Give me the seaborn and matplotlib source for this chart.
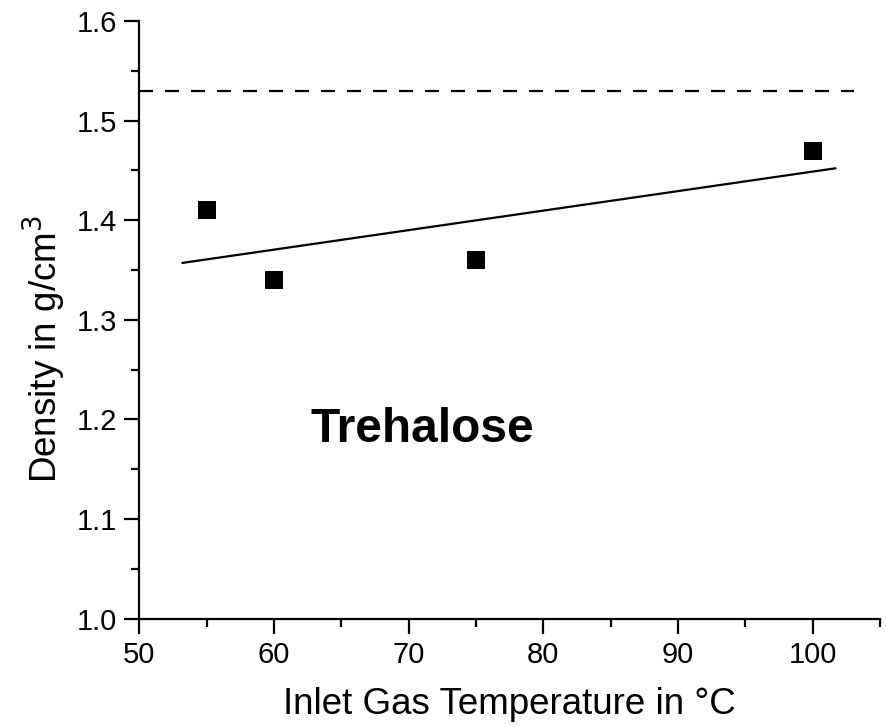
import numpy as np
import pandas as pd
import matplotlib
matplotlib.use("Agg")
import matplotlib.pyplot as plt
import seaborn as sns

# Data
temperature = [55, 60, 75, 100]
density = [1.41, 1.34, 1.36, 1.47]
fit_x_range = [53.2, 101.7]
ref_density = 1.53
ref_x_range = [50, 103.1]
label_text = "Trehalose"

sns.set_theme(style="ticks")
plt.rcParams['font.family'] = ['Liberation Sans', 'DejaVu Sans']
plt.rcParams['text.color'] = 'black'
plt.rcParams['axes.labelcolor'] = 'black'

fig = plt.figure(figsize=(8.86, 7.27), dpi=100)
ax = fig.add_axes([0.1572, 0.149, 0.8360, 0.822])

df = pd.DataFrame({"T": temperature, "rho": density})
slope, intercept = np.polyfit(df["T"], df["rho"], 1)
fit_df = pd.DataFrame({"T": fit_x_range})
fit_df["rho"] = slope * fit_df["T"] + intercept

sns.lineplot(data=fit_df, x="T", y="rho", ax=ax, color="black", lw=1.6)
sns.lineplot(x=ref_x_range, y=[ref_density, ref_density], ax=ax, color="black",
             lw=1.6, linestyle=(0, (6.3, 5.4)))
sns.scatterplot(data=df, x="T", y="rho", ax=ax, marker="s", s=156, color="black",
                edgecolor="black", linewidth=0, zorder=5)

ax.set_xlim(50, 105)
ax.set_ylim(1.0, 1.6)
ax.set_xticks([50, 60, 70, 80, 90, 100])
ax.set_xticks(np.arange(55, 106, 10), minor=True)
ax.set_yticks(np.arange(1.0, 1.61, 0.1))
ax.set_yticks(np.arange(1.05, 1.6, 0.1), minor=True)
ax.set_xticklabels(["50", "60", "70", "80", "90", "100"])
ax.set_yticklabels(["1.0", "1.1", "1.2", "1.3", "1.4", "1.5", "1.6"])

for s in ["top", "right"]:
    ax.spines[s].set_visible(False)
for s in ["left", "bottom"]:
    ax.spines[s].set_linewidth(1.6)
    ax.spines[s].set_color("black")

ax.tick_params(which="major", direction="out", length=11, width=1.6, labelsize=21,
               colors="black", pad=5)
ax.tick_params(which="minor", direction="out", length=6, width=1.6, colors="black")

ax.set_xlabel("Inlet Gas Temperature in °C", fontsize=26.5, labelpad=13, color="black")
ax.set_ylabel("Density in g/cm$^3$", fontsize=26.5, labelpad=6, color="black")
ax.yaxis.label.set_y(0.452)

ax.text(71.0, 1.1776, label_text, fontsize=34.5, fontweight="bold", ha="center",
        va="baseline", color="black")

fig.savefig("out.png", dpi=100)
